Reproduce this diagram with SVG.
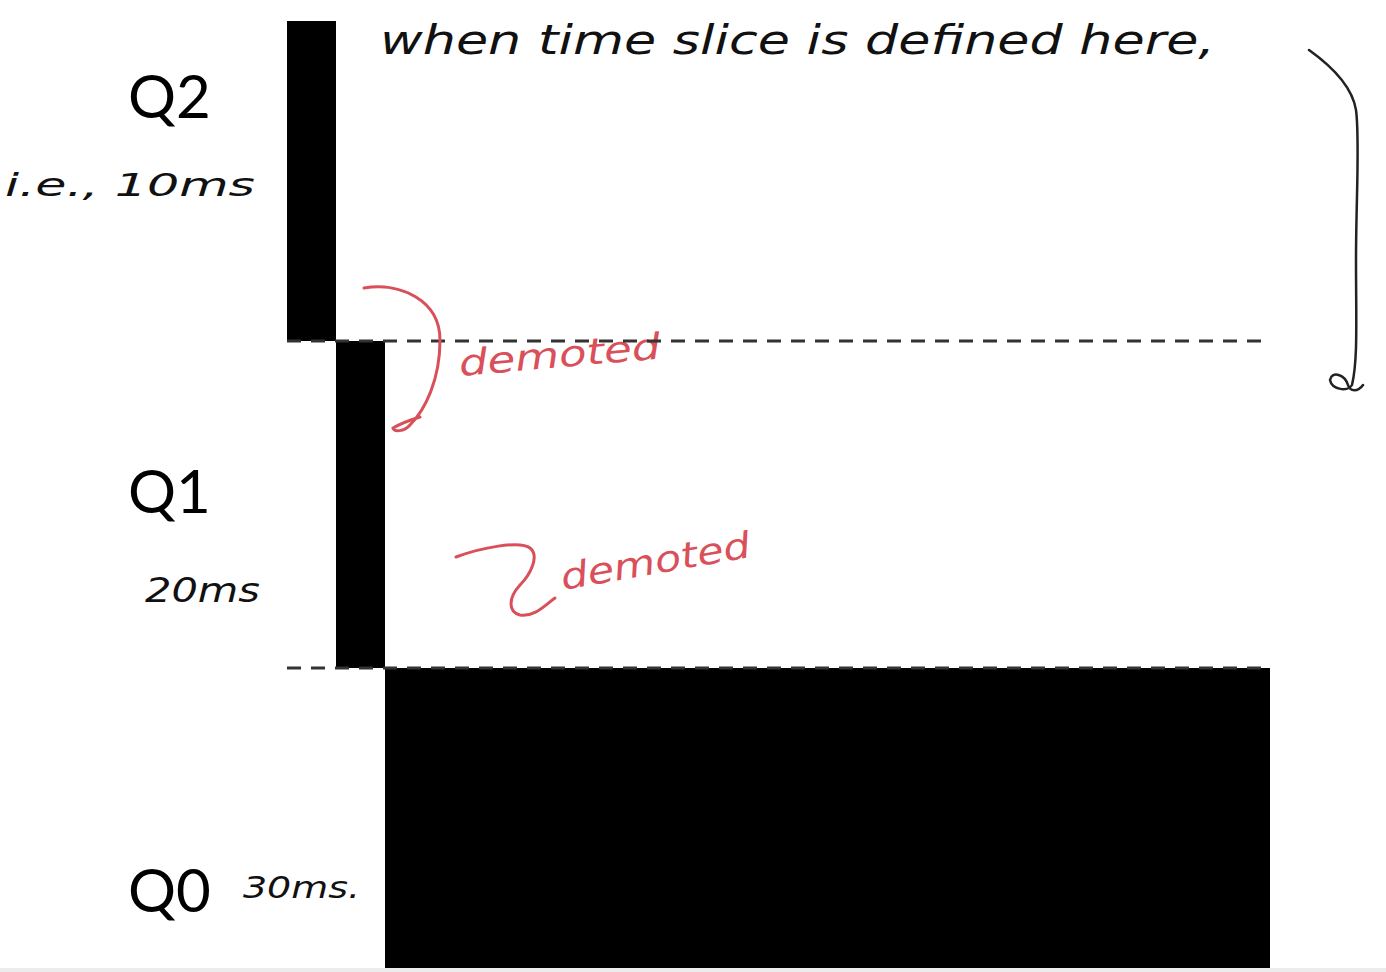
<svg xmlns="http://www.w3.org/2000/svg" width="1386" height="972" viewBox="0 0 1386 972">
<style>
.q{font-family:Lato,"Open Sans","Liberation Sans",sans-serif;font-size:60px;fill:#000}
.hw{font-family:"DejaVu Sans","Liberation Sans",sans-serif;font-style:italic;fill:#111}
.red{font-family:"DejaVu Sans","Liberation Sans",sans-serif;font-style:italic;fill:#d9505a}
.dash{stroke:#333;stroke-width:3;stroke-dasharray:14 10;fill:none}
.bar{fill:#000}
</style>
<rect width="1386" height="972" fill="#fff"/>
<rect x="0" y="968" width="1386" height="4" fill="#ececec"/>
<g id="q2"><rect class="bar" x="287" y="21" width="49" height="320"/><text class="q" x="128" y="118">Q2</text></g>
<g id="q1"><rect class="bar" x="336" y="341" width="49" height="327"/><text class="q" x="128" y="513">Q1</text></g>
<g id="q0"><rect class="bar" x="385" y="668" width="885" height="300"/><text class="q" x="128" y="912">Q0</text></g>
<g id="notes">
<text class="hw" x="380" y="54" font-size="40" textLength="835" lengthAdjust="spacingAndGlyphs">when time slice is defined here,</text>
<text class="hw" x="5" y="196" font-size="32" textLength="250" lengthAdjust="spacingAndGlyphs">i.e., 10ms</text>
<text class="hw" x="145" y="602" font-size="34" textLength="115" lengthAdjust="spacingAndGlyphs">20ms</text>
<text class="hw" x="243" y="898" font-size="30" textLength="117" lengthAdjust="spacingAndGlyphs">30ms.</text>
<text class="red" x="460" y="376" font-size="36" transform="rotate(-5 460 376)" textLength="202" lengthAdjust="spacingAndGlyphs">demoted</text>
<text class="red" x="563" y="590" font-size="36" transform="rotate(-10 563 590)" textLength="192" lengthAdjust="spacingAndGlyphs">demoted</text>
</g>
<g id="connectors">
<path class="dash" d="M287 341H1266"/>
<path class="dash" d="M287 668H1270"/>
<path d="M364 288C400 282 440 300 440 340C440 380 425 410 410 425C404 432 394 432 393 428C400 424 410 420 420 417" fill="none" stroke="#d9505a" stroke-width="3" stroke-linecap="round"/>
<path d="M456 557C480 548 520 540 530 548C540 556 530 575 520 585C508 598 508 612 520 615C535 617 545 605 555 598" fill="none" stroke="#d9505a" stroke-width="3" stroke-linecap="round"/>
<path d="M1309 50C1330 65 1352 85 1356 110C1360 140 1356 200 1356 260C1356 320 1358 360 1352 385C1348 392 1332 390 1330 380C1332 370 1345 375 1348 385C1350 392 1358 392 1363 385" fill="none" stroke="#222" stroke-width="2.5" stroke-linecap="round"/>
</g>
</svg>
